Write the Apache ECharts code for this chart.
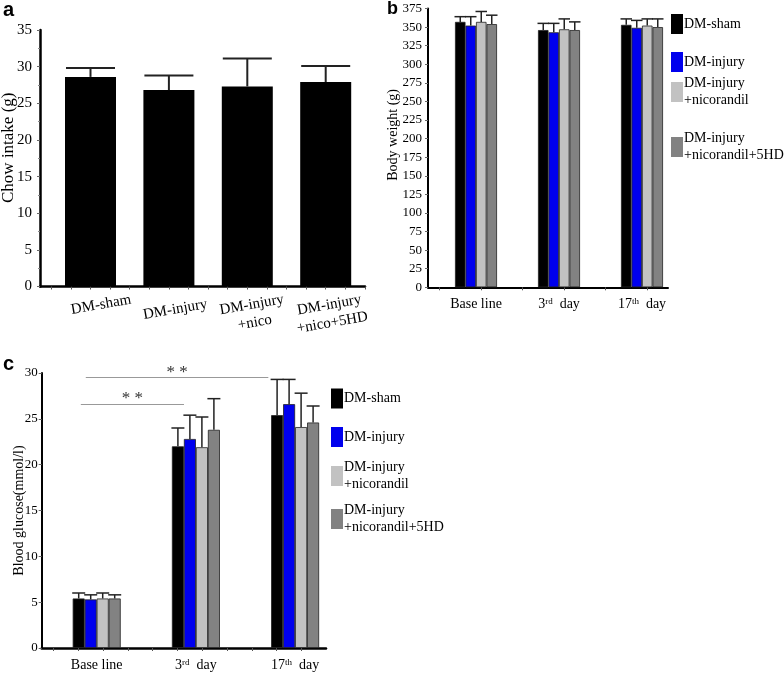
<!DOCTYPE html>
<html><head><meta charset="utf-8">
<script src="https://cdn.jsdelivr.net/npm/echarts@6/dist/echarts.min.js"></script>
<style>html,body{margin:0;padding:0;background:#fff}#c{width:784px;height:673px}</style>
</head><body><div id="c"></div>
<script>
// ---------- data ----------
// Panel a: chow intake (g)
const chowGroups = ['DM-sham', 'DM-injury', 'DM-injury\n+nico', 'DM-injury\n+nico+5HD'];
const chowMean = [28.6, 26.8, 27.3, 27.9];
const chowSD   = [1.2, 2.0, 3.8, 2.2];

// Panels b & c share groups and time points
const timepoints = ['Base line', '3rd  day', '17th  day'];
const groupNames = ['DM-sham', 'DM-injury', 'DM-injury\n+nicorandil', 'DM-injury\n+nicorandil+5HD'];

// Panel b: body weight (g), rows = groups, cols = time points
const weightMean = [
  [357, 346, 353],
  [352, 343, 349],
  [357, 347, 352],
  [354, 346, 350]
];
const weightSD = [
  [7, 9, 8],
  [12, 12, 10],
  [14, 14, 9],
  [12, 11, 11]
];

// Panel c: blood glucose (mmol/l)
const glucoseMean = [
  [5.4, 22.0, 25.4],
  [5.3, 22.8, 26.6],
  [5.4, 21.9, 24.1],
  [5.4, 23.8, 24.6]
];
const glucoseSD = [
  [0.6, 2.0, 3.9],
  [0.5, 2.6, 2.7],
  [0.6, 3.3, 3.7],
  [0.4, 3.4, 1.8]
];
// significance brackets (x in time-point units, y in mmol/l)
const sigFrom = [-0.16, -0.11];
const sigTo   = [0.88, 1.73];
const sigY    = [26.6, 29.5];
const sigText = ['* *', '* *'];

// ---------- style / layout ----------
const colors = ['#000000', '#0000ee', '#c2c2c2', '#828282'];
const serif = '"Liberation Serif","Times New Roman",serif';
const sans = '"Liberation Sans",Arial,sans-serif';
const P = [
  {left: 40,   top: 30,  right: 365, bottom: 286.5, c0: 90.5, step: 78.4, bar: 51},
  {left: 428,  top: 8.5, right: 668, bottom: 287.3, c0: 476,  step: 83,   bar: 10.5},
  {left: 41.7, top: 373, right: 326, bottom: 648,   c0: 96.7, step: 99.2, bar: 12}
];
const grids = P.map(p => ({left: p.left, top: p.top, width: p.right - p.left, height: p.bottom - p.top, outerBoundsMode: 'none', containLabel: false}));
const xMin = p => (p.left - p.c0) / p.step;
const xMax = p => (p.right - p.c0) / p.step;

function range(a, b, s) { const r = []; for (let v = a; v <= b + 1e-9; v += s) r.push(+v.toFixed(4)); return r; }

function supFmt(v) {
  const t = timepoints[Math.round(v)];
  return t.replace(/^(\d+)(rd|th)/, '$1{sup|$2}');
}

// per-label nudges for the rotated labels of panel a (style only)
const chowLabelStyles = {
  s0: {padding: [2, 0, 0, 18]},
  s1: {padding: [10, 0, 0, 8]},
  s2: {padding: [0, 0, 0, 6]},
  s3: {padding: [0, 0, 0, 4]}
};
function chowFmt(v) {
  const i = Math.round(v);
  return chowGroups[i].split('\n').map(l => '{s' + i + '|' + l + '}').join('\n');
}
const chowRich = {};
Object.keys(chowLabelStyles).forEach(k => {
  chowRich[k] = Object.assign({fontFamily: serif, fontSize: 15, color: '#000', lineHeight: 18}, chowLabelStyles[k]);
});

function xAxisFor(i, opts) {
  const p = P[i];
  return Object.assign({
    type: 'value', gridIndex: i, min: xMin(p), max: xMax(p),
    splitLine: {show: false},
    axisLine: {onZero: false, lineStyle: {color: '#000', width: 2}},
  }, opts);
}

function errSeries(xi, data, capPx, lw) {
  return {
    type: 'custom', xAxisIndex: xi, yAxisIndex: xi, data: data, encode: {x: 0, y: 1}, silent: true, z: 3,
    renderItem: function (params, api) {
      const x = api.value(0), m = api.value(1), s = api.value(2);
      const p0 = api.coord([x, m]), p1 = api.coord([x, m + s]);
      const st = {stroke: '#222', lineWidth: lw};
      return {type: 'group', children: [
        {type: 'line', shape: {x1: p0[0], y1: p0[1], x2: p1[0], y2: p1[1]}, style: st},
        {type: 'line', shape: {x1: p1[0] - capPx / 2, y1: p1[1], x2: p1[0] + capPx / 2, y2: p1[1]}, style: st}
      ]};
    }
  };
}

const series = [];
// panel a
series.push({
  type: 'bar', name: 'chow', xAxisIndex: 0, yAxisIndex: 0, barWidth: P[0].bar,
  data: chowMean.map((v, i) => [i, v]),
  itemStyle: {color: '#000'}, z: 2
});
series.push(errSeries(0, chowMean.map((v, i) => [i, v, chowSD[i]]), 49, 2));

// panels b and c
function groupedPanel(pi, means, sds, withSig) {
  const p = P[pi];
  groupNames.forEach((g, s) => {
    const off = (s - 1.5) * p.bar / p.step;
    const ser = {
      type: 'bar', name: g, xAxisIndex: pi, yAxisIndex: pi, barWidth: p.bar, barGap: '-100%',
      data: means[s].map((v, t) => [t + off, v]),
      itemStyle: {color: colors[s], borderColor: '#222', borderWidth: 0.8}, z: 2
    };
    if (withSig && s === 0) {
      ser.markLine = {
        silent: true, symbol: ['none', 'none'],
        lineStyle: {color: '#999', width: 1, type: 'solid'},
        label: {show: true, position: 'middle', formatter: '{b}', fontFamily: serif, fontSize: 17, color: '#333', distance: -3},
        data: sigY.map((y, k) => [{name: sigText[k], coord: [sigFrom[k], y]}, {coord: [sigTo[k], y]}])
      };
    }
    series.push(ser);
    series.push(errSeries(pi, means[s].map((v, t) => [t + off, v, sds[s][t]]), p.bar + 1, 1.5));
  });
}
groupedPanel(1, weightMean, weightSD, false);
groupedPanel(2, glucoseMean, glucoseSD, true);

const labelBase = {fontFamily: serif, color: '#000'};
const supRich = {sup: {fontFamily: serif, fontSize: 9, verticalAlign: 'top', padding: [0, 0, 5, 0], color: '#000'}};

const xAxes = [
  xAxisFor(0, {
    axisLine: {onZero: false, lineStyle: {color: '#000', width: 2.5}},
    axisTick: {show: true, customValues: range(-0.5, 3.5, 0.25), length: 3, lineStyle: {color: '#555'}},
    axisLabel: Object.assign({}, labelBase, {customValues: [0, 1, 2, 3], formatter: chowFmt,
      rotate: 10, align: 'center', verticalAlign: 'top', margin: 10, fontSize: 15, lineHeight: 18, rich: chowRich})
  }),
  xAxisFor(1, {
    axisTick: {show: true, customValues: range(-0.44, 2.1, 0.5), length: 3, lineStyle: {color: '#555'}},
    axisLabel: Object.assign({}, labelBase, {customValues: [0, 1, 2], formatter: supFmt, margin: 10, fontSize: 14, rich: supRich})
  }),
  xAxisFor(2, {
    axisLine: {onZero: false, lineStyle: {color: '#000', width: 2.5}},
    axisTick: {show: true, customValues: range(-0.435, 2.3, 0.25), length: 3, lineStyle: {color: '#555'}},
    axisLabel: Object.assign({}, labelBase, {customValues: [0, 1, 2], formatter: supFmt, margin: 10, fontSize: 14, rich: supRich})
  })
];

const yAxes = [
  {type: 'value', gridIndex: 0, min: 0, max: 35, interval: 5, splitLine: {show: false},
   axisLine: {show: true, onZero: false, lineStyle: {color: '#000', width: 2.5}},
   axisTick: {show: true, length: 3, lineStyle: {color: '#666'}},
   minorTick: {show: true, splitNumber: 2, length: 2, lineStyle: {color: '#888'}},
   axisLabel: Object.assign({}, labelBase, {fontSize: 15, margin: 8}),
   name: 'Chow intake (g)', nameLocation: 'middle', nameGap: 23, nameRotate: 90, nameMoveOverlap: false,
   nameTextStyle: {fontFamily: serif, fontSize: 17, color: '#000', padding: [0, 0, 0, 21]}},
  {type: 'value', gridIndex: 1, min: 0, max: 375, interval: 25, splitLine: {show: false},
   axisLine: {show: true, onZero: false, lineStyle: {color: '#000', width: 2}},
   axisTick: {show: true, length: 3, lineStyle: {color: '#666'}},
   axisLabel: Object.assign({}, labelBase, {fontSize: 13, margin: 6}),
   name: 'Body weight (g)', nameLocation: 'middle', nameGap: 28, nameRotate: 90, nameMoveOverlap: false,
   nameTextStyle: {fontFamily: serif, fontSize: 14, color: '#000', padding: [0, 0, 0, 26]}},
  {type: 'value', gridIndex: 2, min: 0, max: 30, interval: 5, splitLine: {show: false},
   axisLine: {show: true, onZero: false, lineStyle: {color: '#000', width: 2}},
   axisTick: {show: true, length: 3, lineStyle: {color: '#666'}},
   axisLabel: Object.assign({}, labelBase, {fontSize: 13, margin: 4}),
   name: 'Blood glucose(mmol/l)', nameLocation: 'middle', nameGap: 15, nameRotate: 90, nameMoveOverlap: false,
   nameTextStyle: {fontFamily: serif, fontSize: 14, color: '#000'}}
];

function legendItem(name, left, top) {
  return {
    data: [name], left: left, top: top, orient: 'vertical', padding: 0, itemGap: 0,
    icon: 'rect', itemWidth: 12, itemHeight: 20, selectedMode: false,
    itemStyle: {borderWidth: 0},
    textStyle: {fontFamily: serif, fontSize: 14, color: '#000', lineHeight: 17, padding: [0, 0, 0, -4]}
  };
}
const legends = [
  legendItem(groupNames[0], 671, 14),
  legendItem(groupNames[1], 671, 52),
  legendItem(groupNames[2], 671, 75),
  legendItem(groupNames[3], 671, 130),
  legendItem(groupNames[0], 331, 388.5),
  legendItem(groupNames[1], 331, 427),
  legendItem(groupNames[2], 331, 459),
  legendItem(groupNames[3], 331, 502)
];

const titles = [
  {text: 'a', left: 3, top: 0, padding: 0, textStyle: {fontFamily: sans, fontWeight: 'bold', fontSize: 20, color: '#000'}},
  {text: 'b', left: 387, top: 0, padding: 0, textStyle: {fontFamily: sans, fontWeight: 'bold', fontSize: 18, color: '#000'}},
  {text: 'c', left: 3, top: 354, padding: 0, textStyle: {fontFamily: sans, fontWeight: 'bold', fontSize: 20, color: '#000'}}
];

const chart = echarts.init(document.getElementById('c'), null, {renderer: 'canvas'});
chart.setOption({
  animation: false,
  backgroundColor: '#fff',
  title: titles,
  legend: legends,
  grid: grids,
  xAxis: xAxes,
  yAxis: yAxes,
  series: series
});
</script>
</body></html>
